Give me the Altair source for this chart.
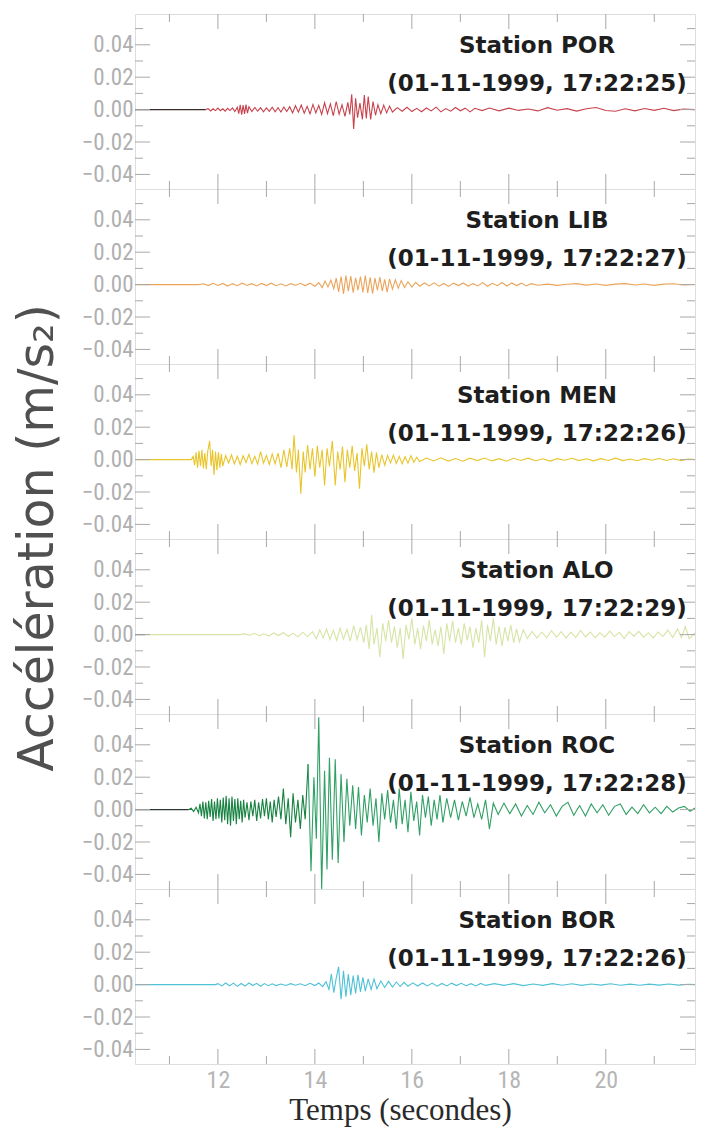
import altair as alt
import pandas as pd

# ---------------- data (acceleration values in units of 0.001 m/s2) ----------------
STATIONS = ["POR", "LIB", "MEN", "ALO", "ROC", "BOR"]
STAMPS = ["17:22:25", "17:22:27", "17:22:26", "17:22:29", "17:22:28", "17:22:26"]
DATE = "01-11-1999"

X_MAJOR = [12, 14, 16, 18, 20]
X_MINOR = [11, 13, 15, 17, 19, 21]
Y_MAJOR = [-0.04, -0.02, 0.0, 0.02, 0.04]
Y_MINOR = [-0.03, -0.01, 0.01, 0.03, 0.05]

POR = [(10.29,0),(11.75,0),
 (11.8,0.6),(11.85,-0.8),(11.9,0.5),(11.95,-0.6),(12.0,0.9),(12.05,-0.7),(12.1,0.5),(12.15,-1.0),(12.2,0.8),(12.25,-0.6),(12.3,1.0),(12.35,-1.2),(12.4,1.5),
 (12.43,-2.5),(12.46,3.0),(12.49,-3.2),(12.52,2.8),(12.55,-2.6),(12.58,3.1),(12.61,-2.2),(12.64,1.8),
 (12.7,-1.2),(12.76,1.3),(12.82,-1.0),(12.88,1.2),(12.94,-1.4),(13.0,1.0),(13.06,-1.1),(13.12,1.5),(13.18,-1.3),(13.24,1.2),(13.3,-1.5),(13.36,1.6),(13.42,-1.2),(13.48,1.8),
 (13.54,-2.0),(13.6,2.4),(13.66,-1.6),(13.72,2.8),(13.78,-2.2),(13.84,2.0),(13.9,-2.6),(13.96,3.2),(14.02,-2.0),(14.08,2.6),
 (14.14,-3.0),(14.2,4.2),(14.26,-2.5),(14.32,3.5),(14.38,-3.8),(14.44,5.0),(14.5,-2.8),(14.56,3.0),(14.62,-4.2),(14.68,4.5),(14.72,-3.0),
 (14.76,9.5),(14.8,-12.0),(14.84,7.0),(14.88,-5.0),(14.93,4.0),(14.98,-6.0),(15.02,9.0),(15.06,-5.5),(15.1,8.0),(15.15,-6.0),(15.2,5.0),(15.25,-3.5),(15.3,3.0),
 (15.36,-2.5),(15.42,2.8),(15.48,-2.0),(15.54,2.2),(15.6,-1.5),
 (15.7,1.2),(15.8,-1.0),(15.9,1.4),(16.0,-1.2),(16.1,0.8),(16.2,-1.3),(16.3,1.0),(16.4,-0.8),(16.5,1.5),(16.6,-1.4),(16.7,0.6),(16.8,-1.0),(16.9,1.3),(17.0,-0.7),(17.1,0.9),(17.2,-1.4),(17.3,0.8),(17.45,-0.6),(17.6,1.0),
 (17.8,-0.8),(18.0,0.9),(18.2,-0.5),(18.4,0.4),(18.6,-0.8),(18.8,1.2),(19.0,-0.4),(19.2,0.6),(19.4,-0.9),(19.6,0.5),(19.8,1.3),(20.0,-0.6),(20.2,-1.0),(20.4,0.5),(20.6,-0.8),(20.8,0.7),(21.0,-0.5),(21.2,0.8),(21.4,-0.6),(21.6,0.3),(21.84,0.0)]

LIB = [(10.29,0),(11.6,0),
 (11.7,0.5),(11.8,-0.6),(11.9,0.8),(12.0,-0.5),(12.1,0.7),(12.2,-0.9),(12.3,0.6),(12.4,-0.7),(12.5,0.9),(12.6,-0.5),(12.7,0.6),(12.8,-0.8),(12.9,0.7),(13.0,-0.6),(13.1,0.9),(13.2,-0.7),(13.3,0.5),(13.4,-0.8),(13.5,0.6),(13.6,-0.5),(13.7,0.8),(13.8,-0.6),(13.9,0.9),(14.0,-1.0),(14.08,1.2),
 (14.15,-1.8),(14.21,2.2),(14.27,-1.5),(14.33,2.8),(14.39,-2.5),
 (14.44,4.0),(14.49,-4.5),(14.54,5.0),(14.59,-5.8),(14.64,5.5),(14.69,-4.0),(14.74,5.2),(14.79,-5.0),(14.84,4.2),(14.89,-3.5),(14.94,5.0),(14.99,-4.8),(15.04,5.6),(15.09,-5.2),(15.14,4.5),(15.19,-5.6),(15.24,4.0),(15.29,-3.5),(15.34,4.6),(15.39,-4.0),(15.44,3.2),(15.49,-4.6),(15.54,3.5),(15.6,-2.8),(15.66,3.0),(15.72,-2.2),(15.78,2.5),(15.85,-1.8),
 (15.92,1.8),(16.0,-1.5),(16.08,1.4),(16.16,-1.0),
 (16.26,1.0),(16.36,-0.8),(16.46,1.1),(16.56,-1.0),(16.66,0.7),(16.76,-1.1),(16.86,0.9),(16.96,-0.6),(17.06,1.0),(17.16,-0.9),(17.26,0.6),(17.36,-0.8),(17.46,1.2),(17.56,-1.0),(17.66,0.8),(17.76,-0.7),(17.86,1.3),(17.96,-0.9),(18.06,1.0),(18.16,-0.6),(18.26,0.9),(18.36,-0.8),(18.46,0.6),(18.6,-0.4),
 (18.8,0.3),(19.0,-0.5),(19.2,0.2),(19.4,0.6),(19.6,-0.3),(19.8,0.4),(20.0,-0.5),(20.2,0.3),(20.4,0.6),(20.6,-0.2),(20.8,0.4),(21.0,-0.5),(21.2,0.3),(21.4,0.5),(21.6,-0.2),(21.84,0.1)]

MEN = [(10.29,0),(11.45,0),
 (11.49,2.0),(11.52,-3.5),(11.55,4.5),(11.58,-5.0),(11.61,5.5),(11.64,-4.0),(11.67,6.0),(11.7,-5.5),(11.73,4.0),(11.76,-6.0),(11.79,5.0),(11.83,11.5),(11.86,-4.0),(11.89,6.0),(11.92,-9.5),(11.95,5.0),(11.98,-6.5),(12.01,4.5),(12.04,-5.0),(12.07,3.5),(12.1,-4.0),
 (12.16,2.5),(12.22,-2.0),(12.28,3.0),(12.34,-2.6),(12.4,2.0),(12.46,-3.0),(12.52,2.4),(12.58,-1.8),(12.64,3.2),(12.7,-2.5),(12.76,2.0),(12.82,-2.8),(12.88,5.0),(12.94,-2.2),(13.0,2.6),(13.06,-3.0),(13.12,3.5),(13.18,-2.5),
 (13.24,4.0),(13.3,-5.0),(13.36,6.0),(13.42,-4.5),(13.48,7.0),(13.53,-6.0),(13.57,15.0),(13.62,-8.0),(13.66,6.0),(13.71,-21.0),(13.76,5.0),(13.8,-8.0),
 (13.85,9.0),(13.9,-6.0),(13.95,7.0),(14.0,-10.5),(14.05,8.5),(14.1,-5.0),(14.15,6.0),(14.2,-16.0),(14.25,7.0),(14.3,-4.0),(14.36,11.5),(14.42,-16.0),(14.47,5.0),(14.52,-6.0),(14.57,8.0),(14.62,-14.0),(14.67,6.0),(14.72,-5.0),(14.77,8.5),(14.82,-7.0),(14.87,4.0),(14.92,-18.0),(14.97,7.0),(15.02,-4.0),(15.07,9.5),(15.12,-6.0),(15.17,5.0),(15.22,-8.0),(15.27,4.5),(15.32,-5.0),(15.38,3.0),(15.44,-3.5),
 (15.5,2.6),(15.56,-2.0),(15.62,2.8),(15.68,-2.4),(15.74,2.0),(15.8,-2.6),(15.86,1.8),(15.92,-2.2),(15.98,2.4),(16.04,-1.6),(16.1,1.5),(16.16,-1.2),
 (16.3,1.0),(16.45,-0.8),(16.6,1.1),(16.75,-0.9),(16.9,0.7),(17.05,-1.0),(17.2,0.9),(17.35,-0.6),(17.5,1.0),(17.65,-0.8),(17.8,0.6),(17.95,-1.0),(18.1,0.8),(18.25,-0.5),(18.4,0.9),(18.55,-0.7),(18.7,0.5),(18.85,-0.9),(19.0,0.6),(19.15,-0.4),(19.3,0.8),(19.45,-0.6),(19.6,0.5),(19.75,-0.8),(19.9,0.6),(20.05,-0.5),(20.2,0.9),(20.35,-0.6),(20.5,0.4),(20.65,-0.7),(20.8,0.6),(20.95,-0.4),(21.1,0.7),(21.25,-0.5),(21.4,0.5),(21.55,-0.6),(21.7,0.4),(21.84,0.0)]

ALO = [(10.29,0),(10.5,0),(12.45,0),
 (12.55,0.6),(12.65,-0.5),(12.75,0.8),(12.85,-0.7),(12.95,0.5),(13.05,-0.9),(13.15,1.0),(13.25,-0.6),(13.35,1.2),(13.45,-1.0),(13.55,0.8),(13.65,-1.4),(13.75,1.5),(13.85,-1.2),(13.95,1.8),
 (14.03,-2.5),(14.1,3.0),(14.17,-2.0),(14.24,3.5),(14.31,-3.0),(14.38,2.6),(14.45,-3.6),(14.52,4.0),(14.59,-2.8),(14.66,3.2),(14.73,-4.0),(14.8,5.5),(14.87,-3.0),(14.94,4.5),(15.01,-5.0),
 (15.06,6.0),(15.12,-9.0),(15.17,12.0),(15.22,-6.0),(15.28,4.0),(15.34,-14.0),(15.4,7.0),(15.46,-4.0),(15.52,9.0),(15.58,-5.0),(15.64,5.0),(15.7,-8.0),(15.76,4.0),(15.82,-15.0),(15.88,6.0),(15.94,-3.0),(16.0,10.0),(16.06,-6.0),(16.12,4.0),(16.18,-9.0),(16.24,5.5),(16.3,-4.0),(16.36,9.0),(16.42,-6.0),(16.48,3.0),(16.54,-7.0),(16.6,5.0),(16.66,-12.0),(16.72,7.0),(16.78,-4.0),(16.84,8.5),(16.9,-5.0),(16.96,4.0),(17.02,-6.0),(17.08,7.0),(17.14,-3.5),(17.2,5.0),(17.26,-8.0),(17.32,4.0),(17.38,-5.0),(17.44,9.0),(17.5,-14.0),(17.56,6.0),(17.62,-4.0),(17.68,10.0),(17.74,-6.0),(17.8,5.0),(17.86,-7.0),(17.92,4.5),(17.98,-4.0),(18.04,6.0),(18.1,-5.0),(18.16,3.5),(18.22,-4.5),(18.3,3.0),(18.38,-2.5),
 (18.48,2.0),(18.58,-2.2),(18.68,1.6),(18.78,-2.0),(18.88,2.4),(18.98,-1.5),(19.08,1.8),(19.18,-2.2),(19.28,1.5),(19.38,-1.8),(19.48,2.6),(19.58,-1.4),(19.68,1.6),(19.78,-2.0),(19.88,1.2),(19.98,-1.6),(20.08,2.2),(20.18,-1.2),(20.28,1.4),(20.38,-2.4),(20.48,1.8),(20.58,-1.0),(20.68,2.0),(20.78,-1.6),(20.88,1.2),(20.98,-2.0),(21.08,1.6),(21.18,-1.2),(21.28,2.8),(21.38,-1.8),(21.48,3.5),(21.56,-2.0),(21.64,5.0),(21.72,-2.5),(21.84,1.0)]

ROC = [(10.29,0),(11.4,0),
 (11.45,0.8),(11.5,-1.2),(11.55,1.5),(11.6,-2.0),
 (11.63,3.5),(11.66,-4.0),(11.69,5.0),(11.72,-5.5),(11.75,4.5),(11.78,-6.0),(11.81,5.5),(11.84,-4.5),(11.87,6.5),(11.9,-7.0),(11.93,5.0),(11.96,-6.0),(11.99,7.0),(12.02,-5.5),(12.05,6.0),(12.08,-8.0),(12.11,7.5),(12.14,-6.5),(12.17,8.5),(12.2,-9.0),(12.23,7.0),(12.26,-10.0),(12.29,8.0),(12.32,-7.0),(12.35,6.5),(12.38,-9.0),(12.41,7.0),(12.44,-6.0),(12.47,5.5),(12.5,-8.0),(12.53,6.0),(12.56,-5.0),(12.6,4.5),(12.64,-6.5),(12.68,5.0),(12.72,-4.0),(12.76,6.0),(12.8,-7.0),(12.84,4.5),(12.88,-5.5),(12.92,6.5),(12.96,-4.0),(13.0,7.0),(13.04,-6.0),(13.08,5.0),(13.12,-8.0),(13.16,6.0),(13.2,-4.5),
 (13.25,8.0),(13.3,-6.0),(13.35,13.0),(13.4,-9.0),(13.45,7.0),(13.5,-17.0),(13.55,10.0),(13.6,-8.0),(13.65,6.0),(13.7,-12.0),(13.75,9.0),(13.8,-6.0),
 (13.86,28.0),(13.92,-38.0),(13.98,20.0),(14.03,-18.0),(14.08,57.0),(14.14,-49.0),(14.2,24.0),(14.25,-37.0),(14.3,32.0),(14.36,-31.0),(14.42,31.0),(14.48,-33.0),(14.54,22.0),(14.6,-20.0),
 (14.66,19.0),(14.72,-10.0),(14.78,15.0),(14.84,-12.0),(14.9,14.0),(14.96,-16.0),(15.02,9.0),(15.08,-8.0),(15.14,13.0),(15.2,-10.0),(15.26,7.0),(15.32,-20.0),(15.38,10.0),(15.44,-6.0),(15.5,12.0),(15.56,-8.0),(15.62,6.0),(15.68,-12.0),(15.74,13.0),(15.8,-9.0),(15.86,6.0),(15.92,-14.0),(15.98,11.0),(16.04,-7.0),(16.1,5.0),(16.16,-16.0),(16.22,9.0),(16.28,-5.0),(16.34,8.0),(16.4,-10.0),(16.46,6.0),(16.52,-6.0),(16.58,9.0),(16.64,-8.0),
 (16.72,7.0),(16.8,-5.0),(16.88,6.0),(16.96,-6.5),(17.04,5.0),(17.12,-4.0),(17.2,7.5),(17.28,-5.0),(17.36,3.5),(17.44,-6.0),(17.52,6.0),(17.6,-12.0),(17.68,4.0),
 (17.78,-3.0),(17.9,4.0),(18.02,-2.5),(18.14,3.5),(18.26,-4.0),(18.38,2.5),(18.5,-3.0),(18.62,4.5),(18.74,-2.0),(18.86,3.0),(18.98,-4.0),(19.1,2.0),(19.22,4.5),(19.34,-3.5),(19.46,2.5),(19.58,-4.0),(19.7,3.5),(19.82,-2.0),(19.94,3.0),(20.06,-3.5),(20.18,2.0),(20.3,3.5),(20.42,-3.0),(20.54,1.5),(20.66,-2.5),(20.78,3.0),(20.9,-2.0),(21.02,1.5),(21.14,-2.5),(21.26,2.0),(21.38,-1.5),(21.5,1.0),(21.62,2.0),(21.74,-1.0),(21.84,1.0)]

BOR = [(10.29,0),(11.95,0),
 (12.0,0.6),(12.08,-0.8),(12.16,1.0),(12.24,-0.7),(12.32,0.9),(12.4,-1.1),(12.48,0.7),(12.56,-0.9),(12.64,1.0),(12.72,-0.6),(12.8,0.8),(12.88,-1.0),(12.96,0.6),(13.04,-0.7),(13.12,0.5),(13.2,-0.6),(13.3,0.4),(13.4,-0.5),(13.5,0.6),(13.6,-0.4),(13.7,0.5),(13.8,-0.7),(13.9,0.8),(14.0,-0.6),(14.08,1.0),(14.16,-1.2),(14.23,1.8),
 (14.29,-3.0),(14.34,6.5),(14.39,-5.0),(14.44,4.0),(14.49,11.0),(14.54,-9.0),(14.59,8.5),(14.64,-7.5),(14.69,6.5),(14.74,-6.5),(14.79,5.5),(14.84,-5.5),(14.89,6.0),(14.94,-4.5),(14.99,4.5),(15.04,-4.0),(15.1,3.5),(15.16,-3.0),(15.22,3.5),(15.28,-2.5),
 (15.36,2.2),(15.44,-1.8),(15.52,2.0),(15.6,-1.5),(15.68,1.6),(15.76,-1.2),(15.84,1.4),(15.92,-1.0),
 (16.02,1.1),(16.12,-0.9),(16.22,1.0),(16.32,-0.8),(16.42,0.9),(16.52,-1.0),(16.62,0.7),(16.72,-0.8),(16.82,0.9),(16.92,-0.6),(17.02,0.8),(17.12,-0.7),(17.22,0.6),(17.32,-0.8),(17.42,0.7),(17.52,-0.5),
 (17.7,0.6),(17.9,-0.5),(18.1,0.6),(18.3,-0.6),(18.5,0.4),(18.7,-0.5),(18.9,0.6),(19.1,-0.4),(19.3,0.5),(19.5,-0.5),(19.7,0.4),(19.9,-0.3),(20.1,0.5),(20.3,-0.4),(20.5,0.3),(20.7,-0.4),(20.9,0.3),(21.1,-0.3),(21.3,0.4),(21.5,-0.3),(21.7,0.2),(21.84,0.0)]

DATA = {"POR": POR, "LIB": LIB, "MEN": MEN, "ALO": ALO, "ROC": ROC, "BOR": BOR}

# colour segments: (end time, colour)
SEGS = {
    "POR": [(11.75, "#3a2a2a"), (21.84, "#c8424d")],
    "LIB": [(21.84, "#eba45a")],
    "MEN": [(21.84, "#e8c52c")],
    "ALO": [(10.5, "#222222"), (21.84, "#d6e4a6")],
    "ROC": [(11.4, "#2b3a30"), (13.86, "#178241"), (21.84, "#30a064")],
    "BOR": [(21.84, "#4fc1d6")],
}

# ---------------- style ----------------
W, H = 560, 175
X_DOMAIN = [10.29, 21.84]
Y_DOMAIN = [-0.049, 0.059]
TICK = "#a8a8a8"
NARROW = "Liberation Sans Narrow, Roboto Condensed, DejaVu Sans Condensed, Liberation Sans, sans-serif"
MAJ, MIN = 15, 8


def split(pts, segs):
    rows = []
    start = -1e9
    for k, (end, col) in enumerate(segs):
        for t, v in pts:
            if start <= t <= end:
                rows.append({"t": t, "a": v / 1000.0, "seg": k, "col": col})
        start = end
    return pd.DataFrame(rows)


xs = alt.Scale(domain=X_DOMAIN, nice=False, zero=False)
ys = alt.Scale(domain=Y_DOMAIN, nice=False, zero=False)

YAXIS = alt.Axis(values=Y_MAJOR, format=".2f", ticks=False, domain=False, grid=False,
                 labelFont=NARROW, labelFontSize=23, labelColor="#b0b0b0",
                 labelPadding=2, title=None)
XAXIS = alt.Axis(values=X_MAJOR, ticks=False, domain=False, grid=False,
                 labelFont=NARROW, labelFontSize=24, labelColor="#b5b5b5",
                 labelPadding=4, title="Temps (secondes)",
                 titleFont="Liberation Serif", titleFontSize=31,
                 titleFontWeight="normal", titleColor="#2a2a2a", titlePadding=3,
                 titleX=265)


def panel(i):
    name = STATIONS[i]
    last = i == len(STATIONS) - 1
    df = split(DATA[name], SEGS[name])
    xaxis = XAXIS if last else None
    line = alt.Chart(df).mark_line(strokeWidth=1.1, clip=True).encode(
        x=alt.X("t:Q", scale=xs, axis=xaxis, title="Temps (secondes)"),
        y=alt.Y("a:Q", scale=ys, axis=YAXIS, title=None),
        detail="seg:N",
        color=alt.Color("col:N", scale=None),
    )
    layers = [line]
    for vals, L in ((Y_MAJOR, MAJ), (Y_MINOR, MIN)):
        base = alt.Chart(pd.DataFrame({"v": vals})).mark_rule(color=TICK, strokeWidth=1)
        yenc = alt.Y("v:Q", scale=ys, axis=YAXIS, title=None)
        layers.append(base.encode(y=yenc, x=alt.value(0), x2=alt.value(L)))
        layers.append(base.encode(y=yenc, x=alt.value(W), x2=alt.value(W - L)))
    for vals, L in ((X_MAJOR, MAJ), (X_MINOR, MIN)):
        base = alt.Chart(pd.DataFrame({"u": vals})).mark_rule(color=TICK, strokeWidth=1)
        xenc = alt.X("u:Q", scale=xs, axis=xaxis, title="Temps (secondes)")
        layers.append(base.encode(x=xenc, y=alt.value(0), y2=alt.value(L)))
        layers.append(base.encode(x=xenc, y=alt.value(H), y2=alt.value(H - L)))
    lab = pd.DataFrame({"s": ["Station " + name]})
    lab2 = pd.DataFrame({"s": ["(" + DATE + ", " + STAMPS[i] + ")"]})
    for d, yy in ((lab, 32), (lab2, 70)):
        layers.append(alt.Chart(d).mark_text(font="DejaVu Sans", fontWeight="bold", fontSize=23,
                                             color="#1e1e1e", align="center", baseline="middle").encode(
            text="s:N", x=alt.value(402), y=alt.value(yy)))
    if name == "MEN":
        ttl = pd.DataFrame({"s": ["Accélération (m/s₂)"]})
        layers.append(alt.Chart(ttl).mark_text(font="DejaVu Sans", fontWeight="normal",
                                               fontSize=49, color="#505050", angle=270,
                                               align="center", baseline="middle").encode(
            text="s:N", x=alt.value(-97), y=alt.value(174)))
    return alt.layer(*layers).properties(width=W, height=H)


chart = alt.vconcat(*[panel(i) for i in range(len(STATIONS))], spacing=0, bounds="flush").configure_view(
    stroke="#b3b3b3", strokeWidth=1.5
).configure(background="white")

chart.save("out.html", embed_options={"renderer": "svg", "actions": False})
